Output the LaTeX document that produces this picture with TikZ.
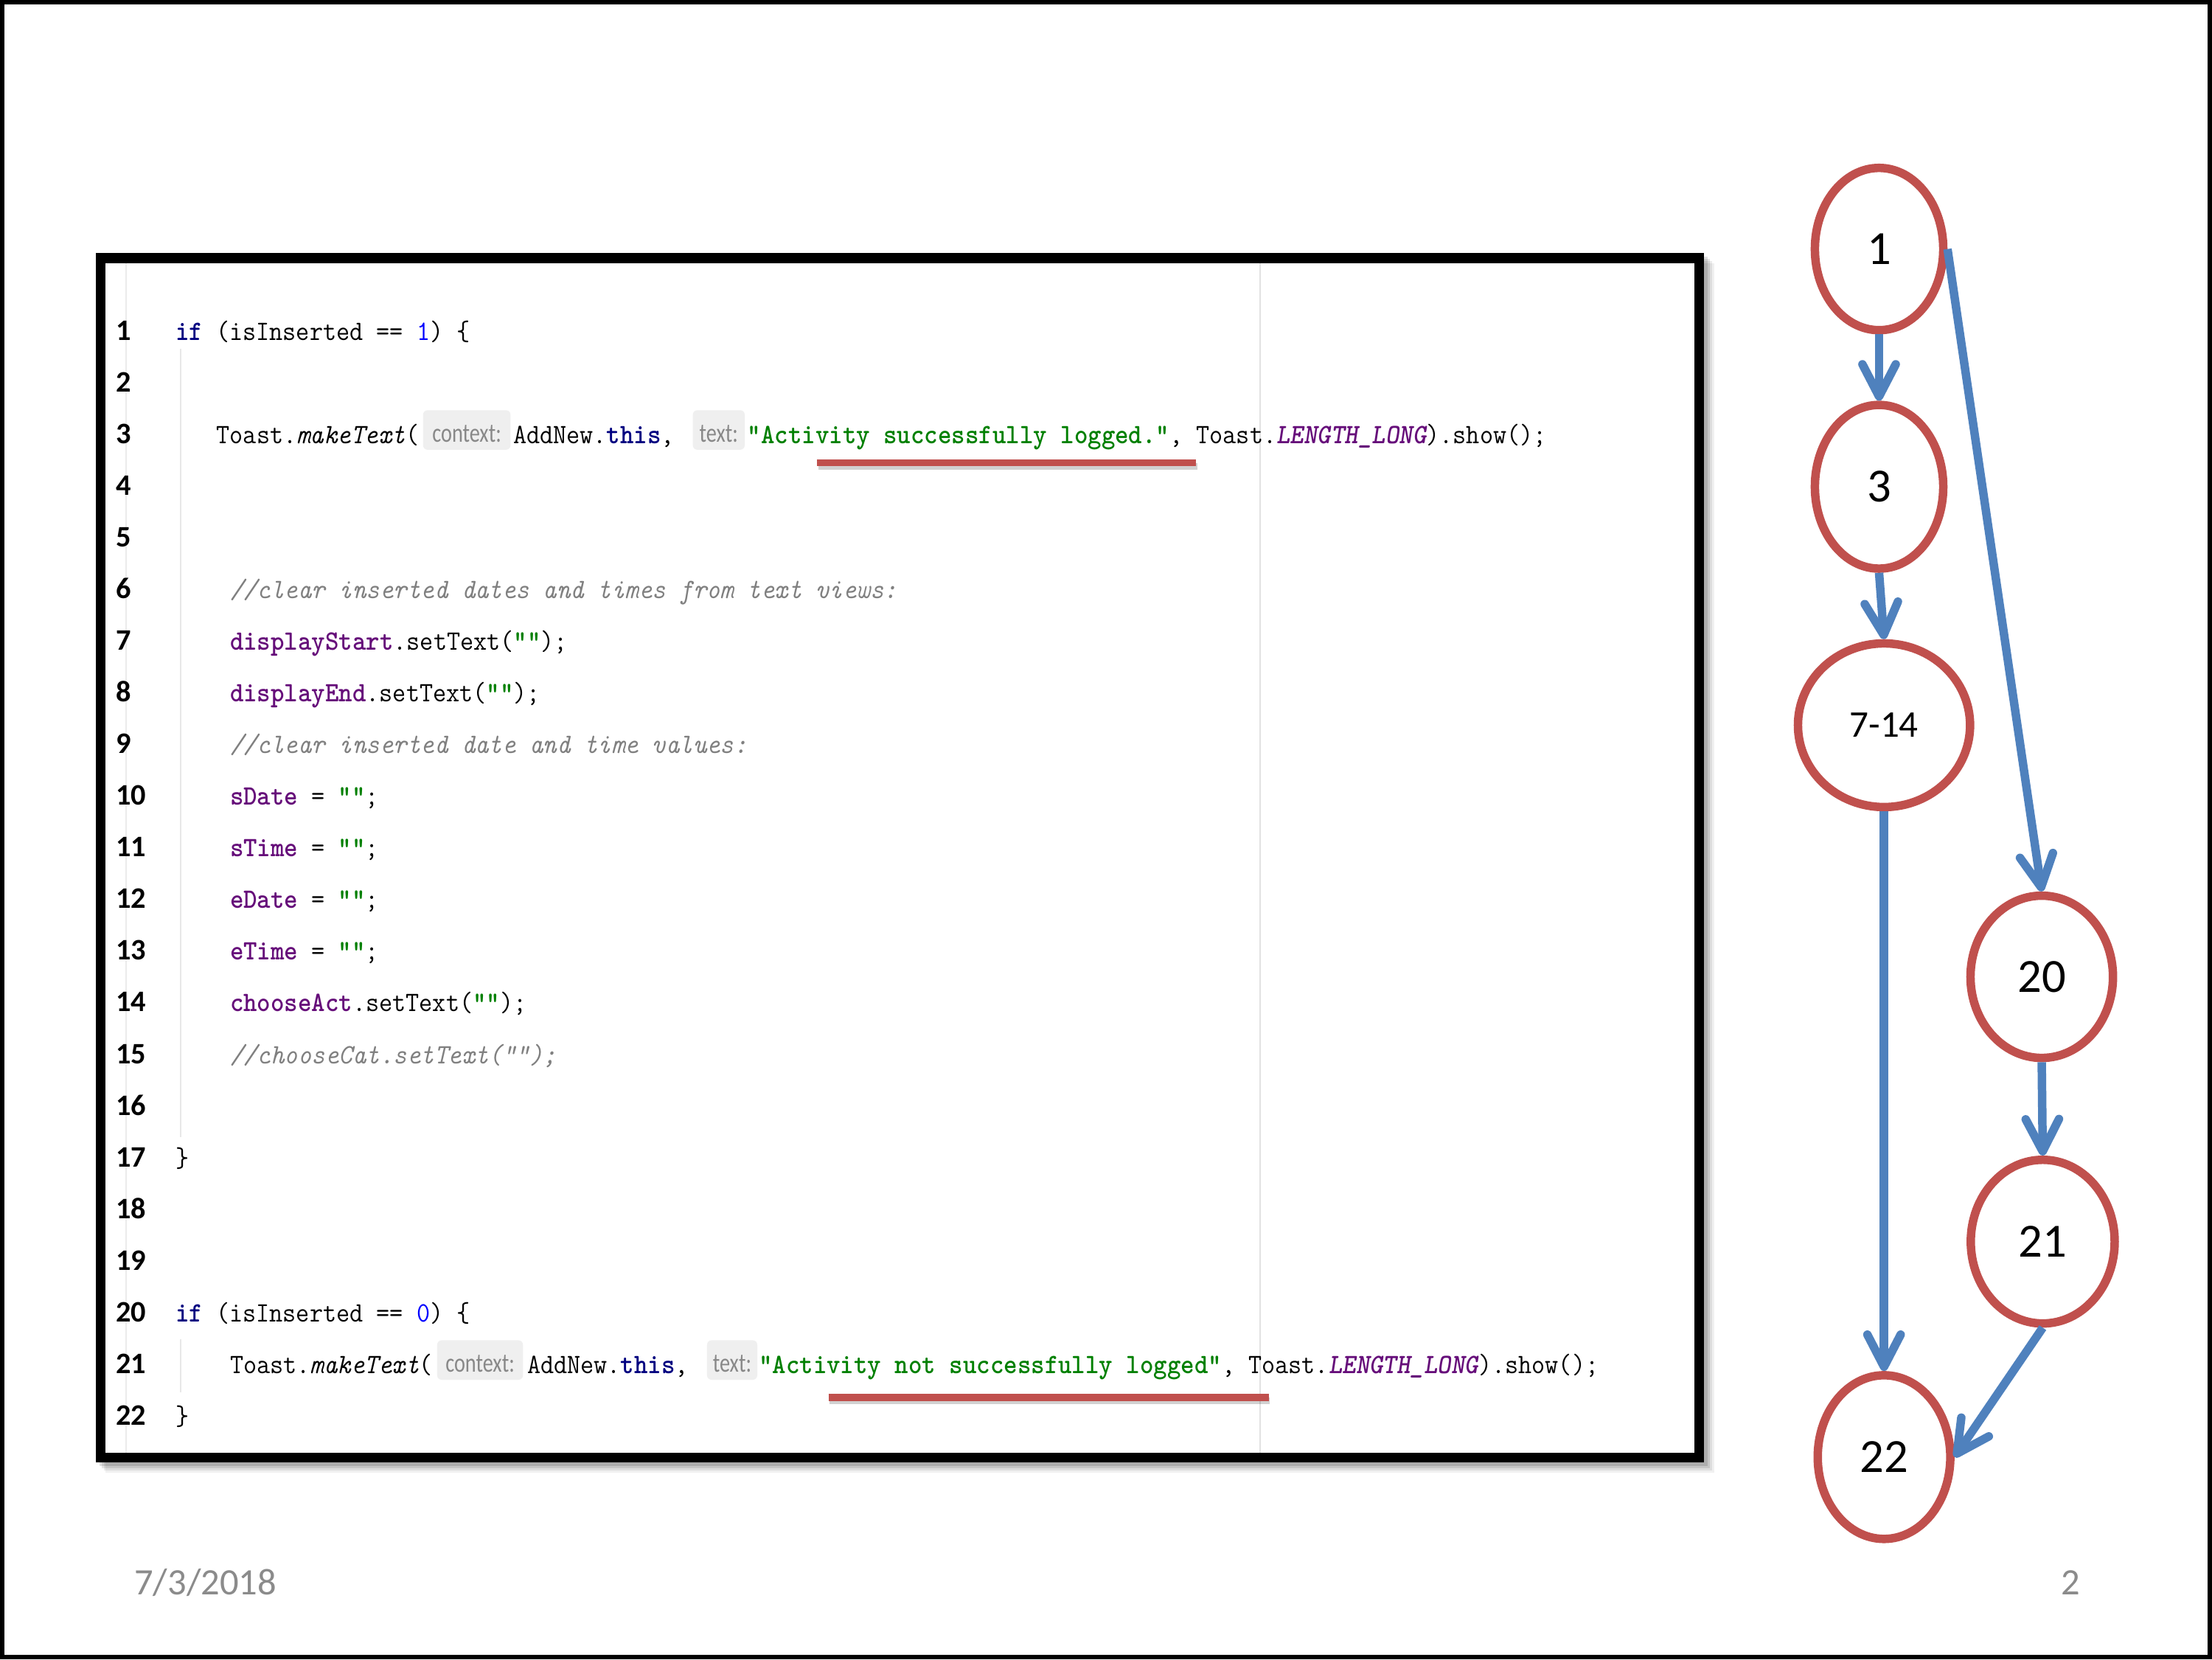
\documentclass[tikz,border=0pt]{standalone}
\usepackage{fontspec}
\usepackage{graphicx}
\usetikzlibrary{shapes.geometric,arrows.meta}
\newfontfamily\carlito{Carlito}
\newfontfamily\chipfont{Carlito}[FakeStretch=0.78]
\definecolor{kwblue}{HTML}{000080}
\definecolor{numblue}{HTML}{0000FF}
\definecolor{strgreen}{HTML}{008000}
\definecolor{fldpurple}{HTML}{660E7A}
\definecolor{cmtgray}{HTML}{808080}
\definecolor{chipbg}{HTML}{EFEFEF}
\definecolor{chiptext}{HTML}{888888}
\definecolor{ulred}{HTML}{C0504D}
\definecolor{nodered}{HTML}{C0504D}
\definecolor{flowblue}{HTML}{4F81BD}
\definecolor{footgray}{HTML}{8B8B8B}
\definecolor{guidegray}{HTML}{E2E2E2}
\newcommand\codefnt{\ttfamily\fontsize{13.08}{15}\selectfont}
\newcommand\vsc[1]{\scalebox{1}[1.08]{#1}}
\newcommand\ckw[1]{\textcolor{kwblue}{\bfseries #1}}
\newcommand\cnum[1]{\textcolor{numblue}{#1}}
\newcommand\cstr[1]{\textcolor{strgreen}{\bfseries #1}}
\newcommand\cfld[1]{\textcolor{fldpurple}{\bfseries #1}}
\newcommand\ccmt[1]{\textcolor{cmtgray}{\itshape #1}}
\newcommand\cstat[1]{\textcolor{fldpurple}{\bfseries\itshape #1}}
\begin{document}
\begin{tikzpicture}[x=0.25mm,y=-0.25mm,
  code/.style={anchor=base west,inner sep=0pt,font=\codefnt},
  lnum/.style={anchor=base west,inner sep=0pt,font=\carlito\bfseries\fontsize{15}{18}\selectfont},
  chipbox/.style={fill=chipbg,rounded corners=0.8mm,inner sep=0pt,minimum height=7mm},
  chiplabel/.style={anchor=base,inner sep=0pt,text=chiptext,font=\chipfont\fontsize{13.5}{16}\selectfont},
  uline/.style={draw=ulred,line width=1.25mm},
  ushadow/.style={draw=black,opacity=0.18,line width=1.2mm},
  cfg/.style={ellipse,draw=nodered,line width=1.5mm,fill=white,inner sep=0pt,
    font=\carlito\fontsize{24}{28}\selectfont},
  flow/.style={draw=flowblue,line width=1.5mm,
    -{Straight Barb[length=5.7mm,width=5.9mm,round]}},
  foot/.style={inner sep=0pt,text=footgray,font=\carlito\fontsize{18.8}{22}\selectfont}
]
\useasboundingbox (0,0) rectangle (1568,1176);
\fill[white] (0,0) rectangle (1568,1176);
\draw[line width=0.75mm] (1.5,1.5) rectangle (1566.5,1174.5);

% code box shadow and box
\foreach \d/\o in {7/0.06,5.5/0.08,4/0.10,2.5/0.12}
  \fill[black,opacity=\o] (68+\d,179.5+\d) rectangle (1208+\d,1036.5+\d);
\fill[white] (71.5,183) rectangle (1204.5,1033);
\draw[guidegray,line width=0.25mm] (893,186.5) -- (893,1029.5);
\draw[guidegray!70,line width=0.3mm] (89.5,186.5) -- (89.5,1029.5);
\draw[guidegray!80,line width=0.3mm] (128,247) -- (128,806);
\draw[guidegray!80,line width=0.3mm] (128,949) -- (128,987);

% line numbers
\foreach \k in {1,...,22}
  \node[lnum] (ln\k) at (82,{241+(\k-1)*36.62}) {\k};

% chips
\node[chipbox,minimum width=15.5mm] (chipbg3a) at (330.9,304.74) {};
\node[chipbox,minimum width=9.2mm] (chipbg3b) at (509.5,304.74) {};
\node[chipbox,minimum width=15.2mm] (chipbg21a) at (340.3,963.9) {};
\node[chipbox,minimum width=8.9mm] (chipbg21b) at (519,963.9) {};
\node[chiplabel] (chip3a) at (330.9,313.24) {context:};
\node[chiplabel] (chip3b) at (509.5,313.24) {text:};
\node[chiplabel] (chip21a) at (340.3,972.4) {context:};
\node[chiplabel] (chip21b) at (519,972.4) {text:};

% underlines
\draw[ushadow] (580,330.5) -- (849,330.5);
\draw[uline] (579,328) -- (848,328);
\draw[ushadow] (588,993) -- (900,993);
\draw[uline] (587.3,990.5) -- (899.4,990.5);

% code text
\node[code] (c1) at (124.2,241) {\vsc{\ckw{if} (isInserted == \cnum{1}) \{}};
\node[code] (c3a) at (153.2,314.24) {\vsc{Toast.\textit{makeText}(}};
\node[code] (c3b) at (363.5,314.24) {\vsc{AddNew.\ckw{this},}};
\node[code] (c3c) at (529.6,314.24) {\vsc{\cstr{"Activity successfully logged."}, Toast.\cstat{LENGTH\_LONG}).show();}};
\node[code] (c6) at (162.8,424.1) {\vsc{\ccmt{//clear inserted dates and times from text views:}}};
\node[code] (c7) at (162.8,460.72) {\vsc{\cfld{displayStart}.setText(\cstr{""});}};
\node[code] (c8) at (162.8,497.34) {\vsc{\cfld{displayEnd}.setText(\cstr{""});}};
\node[code] (c9) at (162.8,533.96) {\vsc{\ccmt{//clear inserted date and time values:}}};
\node[code] (c10) at (162.8,570.58) {\vsc{\cfld{sDate} = \cstr{""};}};
\node[code] (c11) at (162.8,607.2) {\vsc{\cfld{sTime} = \cstr{""};}};
\node[code] (c12) at (162.8,643.82) {\vsc{\cfld{eDate} = \cstr{""};}};
\node[code] (c13) at (162.8,680.44) {\vsc{\cfld{eTime} = \cstr{""};}};
\node[code] (c14) at (162.8,717.06) {\vsc{\cfld{chooseAct}.setText(\cstr{""});}};
\node[code] (c15) at (162.8,753.68) {\vsc{\ccmt{//chooseCat.setText("");}}};
\node[code] (c17) at (124.2,826.92) {\vsc{\}}};
\node[code] (c20) at (124.2,936.78) {\vsc{\ckw{if} (isInserted == \cnum{0}) \{}};
\node[code] (c21a) at (162.8,973.4) {\vsc{Toast.\textit{makeText}(}};
\node[code] (c21b) at (373.5,973.4) {\vsc{AddNew.\ckw{this},}};
\node[code] (c21c) at (537.6,973.4) {\vsc{\cstr{"Activity not successfully logged"}, Toast.\cstat{LENGTH\_LONG}).show();}};
\node[code] (c22) at (124.2,1010.02) {\vsc{\}}};

% code box frame
\draw[line width=1.75mm] (71.5,183) rectangle (1204.5,1033);

% control flow graph
\node[cfg,minimum width=22.75mm,minimum height=28.75mm] (n1) at (1332,176.5) {1};
\node[cfg,minimum width=22.75mm,minimum height=29mm] (n3) at (1332,345) {3};
\node[cfg,minimum width=30.5mm,minimum height=29mm,font=\carlito\fontsize{19}{22}\selectfont] (n714) at (1335.5,514) {7-14};
\node[cfg,minimum width=25.25mm,minimum height=28.75mm] (n20) at (1447.3,692.3) {20};
\node[cfg,minimum width=25.5mm,minimum height=29mm] (n21) at (1448,880) {21};
\node[cfg,minimum width=23.5mm,minimum height=29mm] (n22) at (1335.5,1032.7) {22};

\draw[flow] (n1.south) -- (n3.north);
\draw[flow] (n3.south) -- (n714.north);
\draw[flow] (n714.south) -- (n22.north);
\draw[flow] (n1.east) -- (n20.north);
\draw[flow] (n20.south) -- (n21.north);
\draw[flow] (n21.south) -- (n22.east);

% footer
\node[foot,anchor=base west] (date) at (95,1130) {7/3/2018};
\node[foot,anchor=base east] (page) at (1475,1130) {2};
\end{tikzpicture}
\end{document}
